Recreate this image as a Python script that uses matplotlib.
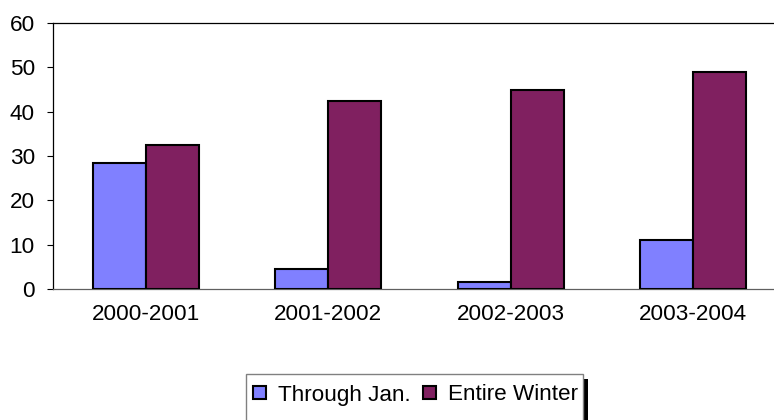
import matplotlib
matplotlib.use("Agg")
import matplotlib.pyplot as plt
from matplotlib.patches import Rectangle
import numpy as np

categories = ["2000-2001", "2001-2002", "2002-2003", "2003-2004"]
through_jan = [28.4, 4.5, 1.5, 11.0]
entire_winter = [32.5, 42.5, 45.0, 49.0]
series_names = ["Through Jan.", "Entire Winter"]
y_ticks = [0, 10, 20, 30, 40, 50, 60]

plt.rcParams['font.family'] = ['Liberation Sans', 'DejaVu Sans']
FS = 16.2

W, H = 774, 420
fig = plt.figure(figsize=(W / 100, H / 100), dpi=100)

left_px, right_px, top_px, bottom_px = 53, 786, 23, 289
ax = fig.add_axes([left_px / W, 1 - bottom_px / H,
                   (right_px - left_px) / W, (bottom_px - top_px) / H])

x = np.arange(len(categories))
bw = 0.29
b1 = ax.bar(x - bw / 2, through_jan, width=bw, color="#8080FF",
            edgecolor="black", linewidth=1.5, label=series_names[0], zorder=3)
b2 = ax.bar(x + bw / 2, entire_winter, width=bw, color="#802060",
            edgecolor="black", linewidth=1.5, label=series_names[1], zorder=3)

ax.set_xlim(-0.51, 3.51)
ax.set_ylim(0, 60)
ax.set_yticks(y_ticks)
ax.set_yticklabels([str(v) for v in y_ticks], fontsize=FS)
ax.set_xticks(x)
ax.set_xticklabels(categories, fontsize=FS)
ax.tick_params(axis='x', length=0, pad=11)
ax.tick_params(axis='y', length=4, width=0.8, color='black', pad=9, direction='out')

ax.spines['right'].set_visible(False)
ax.spines['top'].set_color('black')
ax.spines['left'].set_color('black')
ax.spines['bottom'].set_color('#606060')
for s in ['top', 'left', 'bottom']:
    ax.spines[s].set_linewidth(0.9)

# legend frame with shadow (extends past bottom edge)
lx0, lx1, ly_top = 246, 583, 374
shadow = Rectangle((lx0 + 5, -20), lx1 - lx0, (H - ly_top) + 20 - 5,
                   transform=None, facecolor='black', edgecolor='none', zorder=1)
frame = Rectangle((lx0, -20), lx1 - lx0, (H - ly_top) + 20,
                  transform=None, facecolor='white', edgecolor='#808080',
                  linewidth=1.0, zorder=2)
fig.patches.extend([shadow, frame])

leg = fig.legend(handles=[b1, b2], labels=series_names, loc='center left',
                 bbox_to_anchor=(253 / W, 1 - 395 / H), ncol=2, frameon=False,
                 fontsize=FS, handlelength=0.56, handleheight=0.56,
                 handletextpad=0.55, columnspacing=0.55, borderpad=0,
                 borderaxespad=0)
leg.set_zorder(5)

fig.savefig("out.png", dpi=100)
